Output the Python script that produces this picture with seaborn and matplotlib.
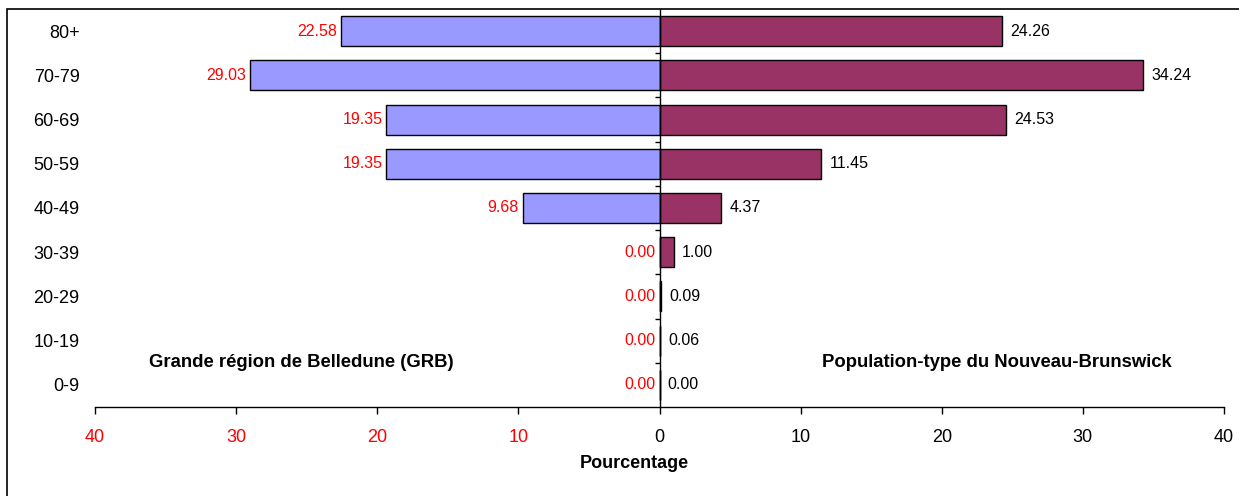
import matplotlib
matplotlib.use("Agg")
import matplotlib.pyplot as plt
import seaborn as sns
import pandas as pd
import numpy as np
from matplotlib.patches import Rectangle
from matplotlib.ticker import FixedLocator, FuncFormatter

# ---- data ----
age_groups = ["80+", "70-79", "60-69", "50-59", "40-49", "30-39", "20-29", "10-19", "0-9"]
grb_pct = [22.58, 29.03, 19.35, 19.35, 9.68, 0.00, 0.00, 0.00, 0.00]
nb_pct = [24.26, 34.24, 24.53, 11.45, 4.37, 1.00, 0.09, 0.06, 0.00]
x_ticks = [-40, -30, -20, -10, 0, 10, 20, 30, 40]
left_label = "Grande région de Belledune (GRB)"
right_label = "Population-type du Nouveau-Brunswick"
x_label = "Pourcentage"
title_text = "Répartition par âge des cas de la GRB et de la population-type du Nouveau-Brunswick, 1996-2000"

sns.set_theme(style="white")
plt.rcParams["font.family"] = ["Liberation Sans", "DejaVu Sans"]
plt.rcParams["text.color"] = "black"
plt.rcParams["axes.labelcolor"] = "black"

df = pd.DataFrame({"age": age_groups, "grb": [-v for v in grb_pct], "nb": nb_pct})

fig = plt.figure(figsize=(12.39, 4.96), dpi=100)
ax = fig.add_axes([95 / 1239, 1 - 407 / 496, (1224 - 95) / 1239, (407 - 9) / 496])

sns.barplot(data=df, y="age", x="grb", order=age_groups, orient="h", color="#9999FF",
            saturation=1, edgecolor="black", linewidth=1, width=0.68, ax=ax)
sns.barplot(data=df, y="age", x="nb", order=age_groups, orient="h", color="#993366",
            saturation=1, edgecolor="black", linewidth=1, width=0.68, ax=ax)

ax.set_xlim(-40, 40)
ax.set_ylim(len(age_groups) - 0.5, -0.5)

# center axis line with boundary ticks
ax.axvline(0, color="black", lw=1, zorder=5)
bounds = np.arange(len(age_groups) - 1) + 0.5
ax.hlines(bounds, -0.3, 0, color="black", lw=1, zorder=5)

# value labels
for i, v in enumerate(grb_pct):
    ax.annotate(f"{v:.2f}", xy=(-v, i), xytext=(-3, 0), textcoords="offset points",
                ha="right", va="center", color="red", fontsize=11.5)
for i, v in enumerate(nb_pct):
    ax.annotate(f"{v:.2f}", xy=(v, i), xytext=(6, 0), textcoords="offset points",
                ha="left", va="center", color="black", fontsize=11.5)

# spines & ticks
for s in ["top", "right", "left"]:
    ax.spines[s].set_visible(False)
ax.spines["bottom"].set_color("black")
ax.spines["bottom"].set_linewidth(1)
ax.xaxis.set_major_locator(FixedLocator(x_ticks))
ax.xaxis.set_major_formatter(FuncFormatter(lambda v, p: f"{abs(int(round(v)))}"))
ax.tick_params(axis="x", bottom=True, direction="out", length=5, width=1, color="black",
               pad=11, labelsize=13, labelcolor="black")
for lab, t in zip(ax.get_xticklabels(), x_ticks):
    lab.set_color("red" if t < 0 else "black")
ax.tick_params(axis="y", left=False, length=0, pad=11, labelsize=13, labelcolor="black")
ax.set_ylabel("")
ax.set_xlabel(x_label, fontsize=13, fontweight="bold", labelpad=6, color="black")
ax.xaxis.set_label_coords(0.478, -0.12)

# series names
ax.text(-25.4, 7.5, left_label, ha="center", va="center", fontsize=13.3, fontweight="bold",
        color="black")
ax.text(23.9, 7.5, right_label, ha="center", va="center", fontsize=13.3, fontweight="bold",
        color="black")

# outer frame
fig.patches.append(Rectangle((7 / 1239, -0.1), 1.2, 1 - 9 / 496 + 0.1, transform=fig.transFigure,
                             fill=False, edgecolor="black", lw=1.2, zorder=0))
# cropped title (only its lower edge shows, as in the reference)
fig.text(85 / 1239, 1.0 + 3.5 / 496, title_text, ha="left", va="baseline", fontsize=15,
         fontweight="bold", fontstyle="italic", color="black")

fig.savefig("out.png", dpi=100)
